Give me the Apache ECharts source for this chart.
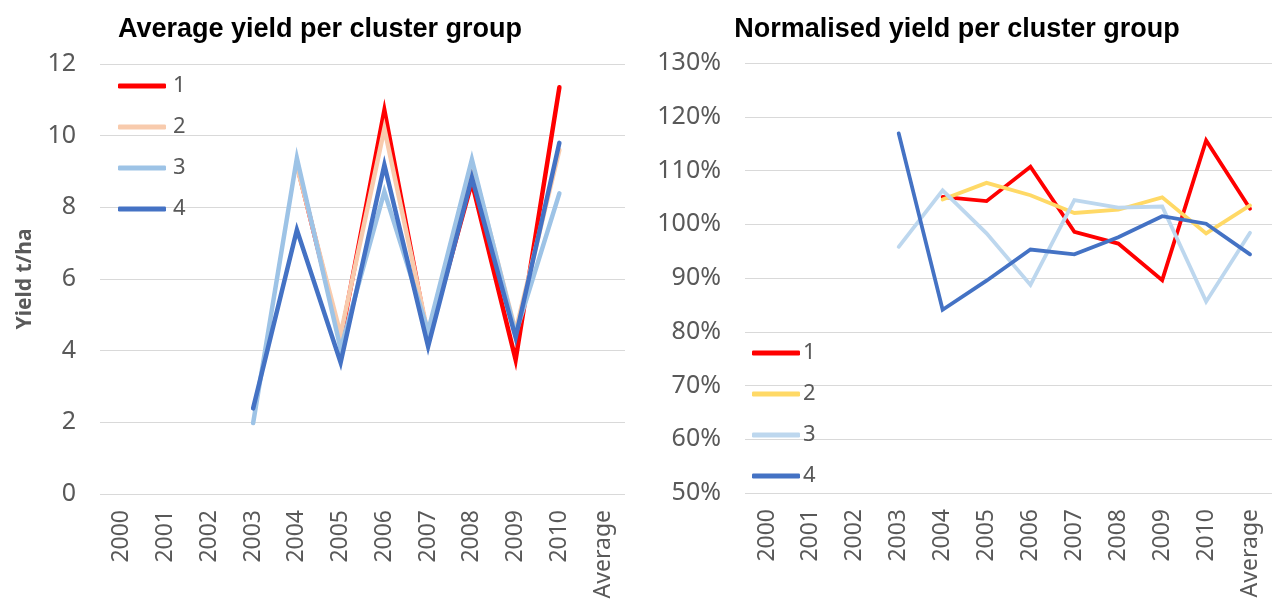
<!DOCTYPE html>
<html>
<head>
<meta charset="utf-8">
<script src="https://cdn.jsdelivr.net/npm/echarts@6/dist/echarts.min.js"></script>
<style>
  html, body { margin: 0; padding: 0; background: #fff; }
  #chart { width: 1277px; height: 605px; }
</style>
</head>
<body>
<div id="chart"></div>
<script>
// Categories shared by both panels
const years = ['2000', '2001', '2002', '2003', '2004', '2005', '2006', '2007', '2008', '2009', '2010', 'Average'];
const clusters = ['1', '2', '3', '4'];

// Average yield (t/ha) per cluster group
const yield1 = [null, null, null, null, 9.2, 4.3, 10.7, 4.3, 8.7, 3.75, 11.35, null];
const yield2 = [null, null, null, null, 9.15, 4.45, 10.2, 4.45, 9.25, 4.55, 9.6, null];
const yield3 = [null, null, null, 1.98, 9.37, 4.05, 8.44, 4.55, 9.34, 4.47, 8.39, null];
const yield4 = [null, null, null, 2.39, 7.37, 3.67, 9.18, 4.12, 8.83, 4.37, 9.8, null];

// Normalised yield (%) per cluster group
const norm1 = [null, null, null, null, 105.1, 104.3, 110.7, 98.6, 96.4, 89.6, 115.6, 102.9];
const norm2 = [null, null, null, null, 104.6, 107.7, 105.4, 102.1, 102.7, 105.0, 98.3, 103.5];
const norm3 = [null, null, null, 95.8, 106.3, 98.3, 88.7, 104.5, 103.1, 103.3, 85.6, 98.4];
const norm4 = [null, null, null, 116.9, 84.1, 89.5, 95.3, 94.4, 97.6, 101.5, 100.1, 94.4];

// Axis ticks
const yieldTicks = { min: 0, max: 12, interval: 2 };
const normTicks = { min: 50, max: 130, interval: 10 };

const leftColors = ['#FF0000', '#F8CBAD', '#9DC3E6', '#4472C4'];
const rightColors = ['#FF0000', '#FFD966', '#BDD7EE', '#4472C4'];

const grey = '#595959';
const labelFont = 'Noto Sans';

function xAxis(gridIndex) {
  return {
    type: 'category',
    gridIndex: gridIndex,
    data: years,
    boundaryGap: true,
    axisLine: { show: false },
    axisTick: { show: false },
    axisLabel: { rotate: 90, color: grey, fontSize: 23, fontFamily: labelFont, margin: 16, interval: 0 }
  };
}

function yAxis(gridIndex, ticks, fmt, extra) {
  return Object.assign({
    type: 'value',
    gridIndex: gridIndex,
    min: ticks.min,
    max: ticks.max,
    interval: ticks.interval,
    axisLine: { show: false },
    axisTick: { show: false },
    splitLine: { lineStyle: { color: '#D9D9D9', width: 1.2 } },
    axisLabel: { color: grey, fontSize: 25, fontFamily: labelFont, margin: 24, formatter: fmt }
  }, extra || {});
}

function lineSeries(name, data, color, width, axisIndex) {
  return {
    name: name,
    type: 'line',
    xAxisIndex: axisIndex,
    yAxisIndex: axisIndex,
    data: data,
    showSymbol: false,
    symbol: 'none',
    connectNulls: false,
    animation: false,
    lineStyle: { color: color, width: width, cap: 'round', join: 'miter' },
    itemStyle: { color: color }
  };
}

function legend(left, top, gap, colors, textPad) {
  return {
    orient: 'vertical',
    left: left,
    top: top,
    icon: 'roundRect',
    itemWidth: 48,
    itemHeight: 5,
    itemGap: gap,
    selectedMode: false,
    data: clusters.map((c, i) => ({ name: c, itemStyle: { color: colors[i] } })),
    textStyle: { color: grey, fontSize: 22, fontFamily: labelFont, lineHeight: 22, padding: [0, 0, 0, textPad] }
  };
}

const chart = echarts.init(document.getElementById('chart'), null, { renderer: 'canvas' });

const yieldSets = [yield1, yield2, yield3, yield4];
const normSets = [norm1, norm2, norm3, norm4];

chart.setOption({
  backgroundColor: '#ffffff',
  animation: false,
  title: [
    {
      text: 'Average yield per cluster group',
      left: 315, top: 11, textAlign: 'center',
      textStyle: { fontFamily: 'Liberation Sans', fontWeight: 'bold', fontSize: 27, color: '#000' }
    },
    {
      text: 'Normalised yield per cluster group',
      left: 952, top: 11, textAlign: 'center',
      textStyle: { fontFamily: 'Liberation Sans', fontWeight: 'bold', fontSize: 27, color: '#000' }
    }
  ],
  grid: [
    { left: 100, right: 652, top: 64, bottom: 111 },
    { left: 745, right: 5, top: 63, bottom: 112 }
  ],
  xAxis: [xAxis(0), xAxis(1)],
  yAxis: [
    yAxis(0, yieldTicks, '{value}', {
      name: 'Yield t/ha',
      nameLocation: 'middle',
      nameGap: 64,
      nameRotate: 90,
      nameTextStyle: { color: grey, fontSize: 21, fontWeight: 'bold', fontFamily: labelFont }
    }),
    yAxis(1, normTicks, '{value}%')
  ],
  legend: [
    Object.assign(legend(113, 70, 19, leftColors, 2), { seriesIndex: [0, 1, 2, 3] }),
    Object.assign(legend(747, 337, 19, rightColors, -2), { seriesIndex: [4, 5, 6, 7] })
  ],
  series: [
    ...yieldSets.map((d, i) => lineSeries(clusters[i], d, leftColors[i], 4.5, 0)),
    ...normSets.map((d, i) => lineSeries(clusters[i], d, rightColors[i], 3.8, 1))
  ]
});
</script>
</body>
</html>
